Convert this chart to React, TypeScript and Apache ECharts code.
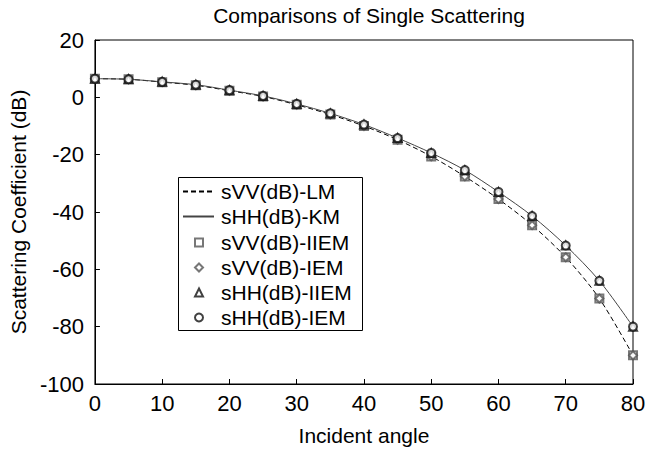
import React, { useEffect, useRef } from "react";
import * as echarts from "echarts";

const angles = [0, 5, 10, 15, 20, 25, 30, 35, 40, 45, 50, 55, 60, 65, 70, 75, 80];
const vvLM = [6.5, 6.3, 5.3, 4.2, 2.3, 0.3, -2.6, -6.0, -10.0, -14.8, -20.6, -27.6, -35.5, -44.6, -55.8, -70.2, -90.0];
const hhKM = [6.5, 6.3, 5.4, 4.4, 2.5, 0.5, -2.3, -5.6, -9.5, -14.2, -19.4, -25.4, -33.0, -41.4, -51.7, -64.0, -80.0];
const vvIIEM = [6.5, 6.3, 5.3, 4.2, 2.3, 0.3, -2.6, -6.0, -10.0, -14.8, -20.6, -27.6, -35.5, -44.6, -55.8, -70.2, -90.0];
const vvIEM = [6.5, 6.3, 5.3, 4.2, 2.3, 0.3, -2.6, -6.0, -10.0, -14.8, -20.6, -27.6, -35.5, -44.6, -55.8, -70.2, -90.0];
const hhIIEM = [6.5, 6.3, 5.4, 4.4, 2.5, 0.5, -2.3, -5.6, -9.5, -14.2, -19.4, -25.4, -33.0, -41.4, -51.7, -64.0, -80.0];
const hhIEM = [6.5, 6.3, 5.4, 4.4, 2.5, 0.5, -2.3, -5.6, -9.5, -14.2, -19.4, -25.4, -33.0, -41.4, -51.7, -64.0, -80.0];

const names = ["sVV(dB)-LM", "sHH(dB)-KM", "sVV(dB)-IIEM", "sVV(dB)-IEM", "sHH(dB)-IIEM", "sHH(dB)-IEM"];

const pts = (ys: number[]) => angles.map((a, i) => [a, ys[i]]);
const FONT = "Liberation Sans, Arial, sans-serif";

export default function App() {
  const ref = useRef<HTMLDivElement>(null);
  useEffect(() => {
    const chart = echarts.init(ref.current!, undefined, { renderer: "svg" });
    const markerSeries = (name: string, ys: number[], symbol: string, color: string) => ({
      name,
      type: "scatter",
      data: pts(ys),
      symbol,
      symbolSize: 8,
      itemStyle: { color, borderColor: color, borderWidth: 1 },
      z: 3,
    });
    const hidden = { color: "transparent", borderColor: "transparent", borderWidth: 0 };
    const legendText = { fontFamily: FONT, fontSize: 21, color: "#000" };
    chart.setOption({
      animation: false,
      title: {
        text: "Comparisons of Single Scattering",
        left: 364,
        textAlign: "center",
        top: 0,
        textStyle: { fontFamily: FONT, fontSize: 21, fontWeight: "normal", color: "#000" },
      },
      grid: { left: 93, right: 25, top: 40, bottom: 71, show: true, borderColor: "#000", borderWidth: 1 },
      graphic: {
        elements: [
          {
            type: "rect",
            z: 5,
            shape: { x: 178.5, y: 177.5, width: 184, height: 153 },
            style: { fill: "#fff", stroke: "#000", lineWidth: 1 },
          },
        ],
      },
      legend: [
        {
          orient: "vertical",
          left: 178,
          top: 177,
          z: 10,
          padding: [4, 6, 0, 4],
          itemGap: 4,
          itemWidth: 31,
          itemHeight: 8,
          data: [
            { name: names[0], itemStyle: hidden },
            { name: names[1], itemStyle: hidden },
          ],
          textStyle: { ...legendText, padding: [0, 0, 0, 2] },
        },
        {
          orient: "vertical",
          left: 194,
          top: 232,
          z: 10,
          padding: 0,
          itemGap: 4,
          itemWidth: 8,
          itemHeight: 8,
          data: [names[2], names[3], names[4], names[5]],
          textStyle: { ...legendText, padding: [0, 0, 0, 13] },
        },
      ],
      xAxis: {
        type: "value",
        min: 0,
        max: 80,
        interval: 10,
        name: "Incident angle",
        nameLocation: "middle",
        nameGap: 41,
        nameTextStyle: { fontFamily: FONT, fontSize: 21, color: "#000" },
        axisLine: { onZero: false, lineStyle: { color: "#000", width: 1 } },
        axisTick: { inside: true, length: 5, lineStyle: { color: "#000" } },
        axisLabel: { fontFamily: FONT, fontSize: 22, color: "#000", margin: 8 },
        splitLine: { show: false },
      },
      yAxis: {
        type: "value",
        min: -100,
        max: 20,
        interval: 20,
        name: "Scattering Coefficient (dB)",
        nameLocation: "middle",
        nameGap: 51,
        nameTextStyle: { fontFamily: FONT, fontSize: 21, color: "#000" },
        axisLine: { onZero: false, lineStyle: { color: "#000", width: 1 } },
        axisTick: { inside: true, length: 5, lineStyle: { color: "#000" } },
        axisLabel: { fontFamily: FONT, fontSize: 22, color: "#000", margin: 11 },
        splitLine: { show: false },
      },
      series: [
        {
          name: names[0],
          type: "line",
          data: pts(vvLM),
          smooth: 0.3,
          symbol: "none",
          lineStyle: { color: "#000", width: 1, type: [5, 3] },
          itemStyle: { color: "#000" },
          z: 2,
        },
        {
          name: names[1],
          type: "line",
          data: pts(hhKM),
          smooth: 0.3,
          symbol: "none",
          lineStyle: { color: "#444", width: 1 },
          itemStyle: { color: "#444" },
          z: 2,
        },
        markerSeries(names[2], vvIIEM, "emptyRect", "#555"),
        markerSeries(names[3], vvIEM, "emptyDiamond", "#555"),
        markerSeries(names[4], hhIIEM, "emptyTriangle", "#111"),
        markerSeries(names[5], hhIEM, "emptyCircle", "#111"),
      ],
    });
    return () => chart.dispose();
  }, []);
  return <div ref={ref} style={{ width: 658, height: 455, position: "absolute", left: 0, top: 0 }} />;
}
